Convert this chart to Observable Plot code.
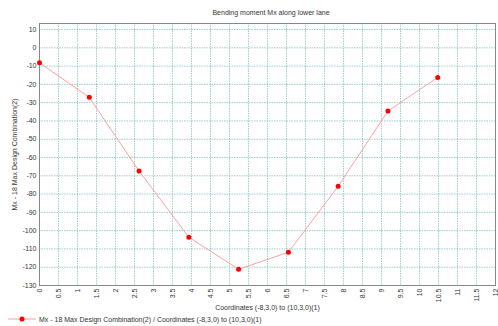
<!DOCTYPE html>
<html>
<head>
<meta charset="utf-8">
<script src="https://cdn.jsdelivr.net/npm/d3@7"></script>
<script src="https://cdn.jsdelivr.net/npm/@observablehq/plot@0.6"></script>
<style>
  html, body { margin: 0; padding: 0; background: #fff; }
  body { width: 498px; height: 326px; overflow: hidden; font-family: "Liberation Sans", Arial, sans-serif; }
  #title { height: 20px; line-height: 26px; text-align: center; font-size: 7px; color: #333; padding-left: 44px; box-sizing: border-box; }
  #legend { height: 14px; display: flex; align-items: center; font-size: 7px; color: #333; padding-left: 8px; }
  #legend svg { margin-right: 3px; }
</style>
</head>
<body>
<div id="title"></div>
<div id="chart"></div>
<div id="legend"></div>
<script>
const titleText = "Bending moment Mx along lower lane";
const yLabel = "Mx - 18 Max Design Combination(2)";
const xLabel = "Coordinates (-8,3,0) to (10,3,0)(1)";
const seriesName = "Mx - 18 Max Design Combination(2) / Coordinates (-8,3,0) to (10,3,0)(1)";

const xs = [0, 1.31, 2.62, 3.93, 5.24, 6.55, 7.86, 9.17, 10.48];
const mx = [-8.2, -27.1, -67.4, -103.6, -121.1, -111.8, -75.7, -34.6, -16.2];
const xTicks = d3.range(0, 12.001, 0.5).map(v => +v.toFixed(1));
const yTicks = d3.range(-130, 10.001, 10);

const data = xs.map((x, i) => ({x, y: mx[i]}));

document.getElementById("title").textContent = titleText;

const grid = {stroke: "#5aaeae", strokeOpacity: 0.6, strokeDasharray: "1.5,1", strokeWidth: 1};

const chart = Plot.plot({
  width: 498,
  height: 292,
  marginTop: 3,
  marginBottom: 27,
  marginLeft: 39,
  marginRight: 3,
  style: {fontFamily: "Liberation Sans, Arial, sans-serif", fontSize: "7px", color: "#333", background: "#fff"},
  x: {domain: [0, 12]},
  y: {domain: [-130, 13.3]},
  marks: [
    Plot.gridX(xTicks, grid),
    Plot.gridY(yTicks, grid),
    Plot.frame({stroke: "#888"}),
    Plot.axisX(xTicks, {tickSize: 0, tickPadding: 3, tickRotate: -90, tickFormat: d => String(d), label: xLabel, labelAnchor: "center", labelArrow: "none", labelOffset: 24, fill: "#333"}),
    Plot.axisY(yTicks, {tickSize: 0, tickPadding: 3, tickFormat: d => String(d), label: yLabel, labelAnchor: "center", labelArrow: "none", labelOffset: 27, fill: "#333"}),
    Plot.line(data, {x: "x", y: "y", stroke: "#ffa0a0", strokeWidth: 1}),
    Plot.dot(data, {x: "x", y: "y", fill: "#ff0000", r: 2.5})
  ]
});
document.getElementById("chart").appendChild(chart);

const legend = document.getElementById("legend");
legend.innerHTML = `<svg width="28" height="8"><line x1="0" y1="4" x2="28" y2="4" stroke="#ffa0a0" stroke-width="1"/><circle cx="14" cy="4" r="2.5" fill="#ff0000"/></svg><span></span>`;
legend.querySelector("span").textContent = seriesName;
</script>
</body>
</html>
